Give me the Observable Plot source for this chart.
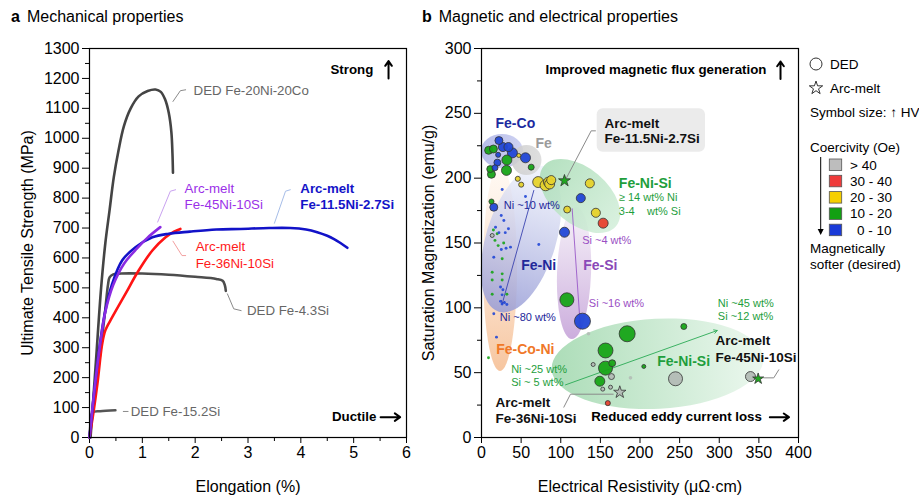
<!DOCTYPE html>
<html><head><meta charset="utf-8">
<script src="https://cdn.jsdelivr.net/npm/d3@7"></script>
<script src="https://cdn.jsdelivr.net/npm/@observablehq/plot@0.6"></script>
<style>
body{margin:0;background:#fff;font-family:"Liberation Sans",Arial,Helvetica,sans-serif;}
#wrap{position:relative;width:919px;height:496px;overflow:hidden;background:#fff;}
.abs{position:absolute;}
.title{position:absolute;font-size:16px;line-height:18px;white-space:nowrap;color:#000;}
</style></head>
<body><div id="wrap">
<div class="title" style="left:11px;top:8px"><b>a</b><span style="margin-left:7px">Mechanical properties</span></div>
<div class="title" style="left:422px;top:8px"><b>b</b><span style="margin-left:7px">Magnetic and electrical properties</span></div>
<div id="pa" class="abs" style="left:0;top:0"></div>
<div id="pb" class="abs" style="left:400px;top:0"></div>
<div id="lg" class="abs" style="left:800px;top:30px"></div>
</div>
<script>
const FONT = '"Liberation Sans", Arial, Helvetica, sans-serif';

// ---------------- Panel a: stress-strain curves ----------------
const elong_Fe20Ni20Co = [0.02,0.12,0.22,0.30,0.38,0.46,0.55,0.65,0.78,0.93,1.10,1.25,1.35,1.43,1.50,1.55,1.57,1.58];
const uts_Fe20Ni20Co   = [0,250,500,650,760,870,960,1040,1100,1140,1158,1163,1155,1130,1085,1020,950,885];
const elong_Fe43Si = [0,0.10,0.21,0.30,0.35,0.38,0.45,0.60,1.00,1.50,2.00,2.40,2.52,2.56,2.58];
const uts_Fe43Si   = [0,140,291,430,510,535,545,548,548,544,537,530,524,510,490];
const elong_Fe152Si = [0,0.03,0.06,0.20,0.49];
const uts_Fe152Si   = [0,60,84,88,91];
const elong_Fe45Ni10Si = [0,0.10,0.20,0.30,0.45,0.65,0.90,1.10,1.34];
const uts_Fe45Ni10Si   = [0,170,310,420,510,580,632,668,703];
const elong_Fe115Ni27Si = [0,0.10,0.18,0.30,0.43,0.62,0.87,1.19,1.50,1.90,2.40,2.86,3.40,3.80,4.10,4.31,4.50,4.62,4.75,4.88];
const uts_Fe115Ni27Si   = [0,170,291,424,514,592,636,669,681,688,695,697,700,700,695,686,674,664,650,634];
const elong_Fe36Ni10Si = [0,0.08,0.15,0.24,0.30,0.43,0.68,0.93,1.19,1.44,1.60,1.72];
const uts_Fe36Ni10Si   = [0,90,180,313,358,402,480,558,625,669,688,697];

const curves = [
  {name:"DED Fe-20Ni-20Co", e:elong_Fe20Ni20Co, s:uts_Fe20Ni20Co, color:"#444444"},
  {name:"DED Fe-4.3Si", e:elong_Fe43Si, s:uts_Fe43Si, color:"#4d4d4d"},
  {name:"DED Fe-15.2Si", e:elong_Fe152Si, s:uts_Fe152Si, color:"#555555"},
  {name:"Arc-melt Fe-36Ni-10Si", e:elong_Fe36Ni10Si, s:uts_Fe36Ni10Si, color:"#ff1414"},
  {name:"Arc-melt Fe-11.5Ni-2.7Si", e:elong_Fe115Ni27Si, s:uts_Fe115Ni27Si, color:"#1212c8"},
  {name:"Arc-melt Fe-45Ni-10Si", e:elong_Fe45Ni10Si, s:uts_Fe45Ni10Si, color:"#8a2be2"}
];

const labelsA = [
  {x:1.97, y:1160, t:"DED Fe-20Ni-20Co", c:"#666666", b:false},
  {x:1.80, y:831, t:"Arc-melt", c:"#9b30e8", b:false},
  {x:1.80, y:779, t:"Fe-45Ni-10Si", c:"#9b30e8", b:false},
  {x:3.99, y:831, t:"Arc-melt", c:"#1414c8", b:true},
  {x:3.99, y:779, t:"Fe-11.5Ni-2.7Si", c:"#1414c8", b:true},
  {x:2.01, y:636, t:"Arc-melt", c:"#ff1a1a", b:false},
  {x:2.01, y:580, t:"Fe-36Ni-10Si", c:"#ff1a1a", b:false},
  {x:2.98, y:424, t:"DED Fe-4.3Si", c:"#666666", b:false},
  {x:0.78, y:85, t:"DED Fe-15.2Si", c:"#666666", b:false},
  {x:4.56, y:1230, t:"Strong", c:"#000", b:true},
  {x:4.59, y:68, t:"Ductile", c:"#000", b:true}
];
const leadersA = [
  {p:[[1.58,1123],[1.72,1159],[1.82,1162]], c:"#8a8a8a"},
  {p:[[1.29,720],[1.53,823],[1.63,828]], c:"#c9a2f0"},
  {p:[[3.50,716],[3.71,823],[3.80,828]], c:"#a6bde8"},
  {p:[[1.58,656],[1.75,608],[1.82,608]], c:"#f2a0a0"},
  {p:[[2.61,480],[2.73,430],[2.87,424]], c:"#8a8a8a"},
  {p:[[0.64,87],[0.73,87]], c:"#8a8a8a"}
];
const arrowsA = [
  {x1:5.66, y1:1200, x2:5.66, y2:1258},
  {x1:5.51, y1:68, x2:5.88, y2:68}
];

function textMarks(list, size) {
  return list.map(a => Plot.text([a], {x:"x", y:"y", text:"t", fill:a.c, fontSize:a.s || size,
    fontWeight: a.b ? "bold" : "normal", textAnchor:"start", lineAnchor:"middle"}));
}

const plotA = Plot.plot({
  width: 415, height: 496,
  marginLeft: 89, marginRight: 9, marginTop: 48, marginBottom: 59,
  style: {fontFamily: FONT, fontSize: "16px", color: "#000", background: "transparent", overflow: "visible"},
  x: {domain: [0, 6]},
  y: {domain: [0, 1300]},
  marks: [
    Plot.axisX({ticks: d3.range(0, 7, 1), tickSize: 6, tickPadding: 3, tickFormat: "d",
      label: "Elongation (%)", labelAnchor: "center", labelOffset: 54, labelArrow: "none"}),
    Plot.axisX({ticks: d3.range(0.5, 6, 1), tickSize: 4, tickFormat: () => "", label: null}),
    Plot.axisY({ticks: d3.range(0, 1301, 100), tickSize: 7, tickPadding: 3, tickFormat: "d",
      label: "Ultimate Tensile Strength (MPa)", labelAnchor: "center", labelOffset: 68, labelArrow: "none"}),
    Plot.axisY({ticks: d3.range(50, 1300, 100), tickSize: 4, tickFormat: () => "", label: null}),
    ...leadersA.map(l => Plot.line(l.p, {stroke: l.c, strokeWidth: 1})),
    ...curves.map(c => Plot.line(c.e.map((v, i) => ({e: v, s: c.s[i]})),
      {x: "e", y: "s", stroke: c.color, strokeWidth: 2.6, curve: "catmull-rom"})),
    ...textMarks(labelsA, 13.3),
    Plot.arrow(arrowsA, {x1:"x1", y1:"y1", x2:"x2", y2:"y2", stroke:"#000", strokeWidth:2, headLength:8, headAngle:70}),
    Plot.frame({stroke: "#000", strokeWidth: 1.2})
  ]
});
document.getElementById("pa").appendChild(plotA);

// ---------------- Panel b: magnetic vs electrical ----------------
const coerClasses = ["> 40", "30 - 40", "20 - 30", "10 - 20", "0 - 10"];
const processes = ["DED", "Arc-melt"];
const resistivity = [22,27,34,39,9,15,21,20,32,17,11,12.5,31.5,47,55.5,62.7,45.8,50.1,71.5,80.8,84.5,88,86,136.7,125.3,144.3,153.5,108.1,104.7,
  26.1,55.5,12.6,15.5,24.9,28.2,17.7,13.5,19.8,15,22,30,34,17,21,28,36.6,31,25,15.5,26.1,72.3,13.5,26.1,13.5,26.1,24,27,13.5,26,32,24,26,29,32,15.5,18.9,8.8,
  107.7,127.4,135,183.8,255.3,156.5,164.9,140.9,156.5,164,188,149.3,153,162.8,159.4,204.8,244.8,339.4,
  104.7,174.5,349.1];
const saturation = [229,224,224,219.5,221.5,222.5,218,212,214,208,207,203,206,217.5,215.7,208.5,199.5,195,197,194.5,197,198.5,195.5,196,184.6,173.3,165.3,175.8,158.3,
  191.3,185.9,182,177.6,171.2,167.3,162.2,155.8,157.1,160,158,158,161,152,148,150,146.8,146,145,139,137.8,148.8,127.5,126.2,121.5,121.5,116,114,110.5,110,110.5,105,103,104,102.5,95.4,77.4,61.5,
  106.2,89.7,80,80,85.6,67.1,57.3,56.3,53.5,47,46,43.4,37.3,38.8,26.5,54.8,45.3,47,
  198,34.9,45.3];
const coercivity = ["0 - 10","0 - 10","0 - 10","0 - 10","10 - 20","10 - 20","0 - 10","0 - 10","10 - 20","0 - 10","10 - 20","10 - 20","10 - 20","20 - 30","0 - 10","10 - 20","20 - 30","20 - 30","20 - 30","20 - 30","20 - 30","20 - 30","20 - 30","20 - 30","0 - 10","20 - 30","30 - 40","20 - 30","0 - 10",
  "0 - 10","0 - 10","10 - 20","0 - 10","0 - 10","0 - 10","0 - 10","> 40","10 - 20","10 - 20","0 - 10","0 - 10","0 - 10","10 - 20","10 - 20","10 - 20","0 - 10","0 - 10","0 - 10","0 - 10","10 - 20","0 - 10","10 - 20","10 - 20","10 - 20","10 - 20","0 - 10","0 - 10","10 - 20","0 - 10","10 - 20","0 - 10","0 - 10","0 - 10","0 - 10","0 - 10","0 - 10","10 - 20",
  "10 - 20","0 - 10","> 40","10 - 20","10 - 20","10 - 20","10 - 20","> 40","10 - 20","> 40","> 40","10 - 20","> 40","> 40","30 - 40","10 - 20","> 40","> 40",
  "10 - 20","> 40","10 - 20"];
const hardnessHV = [300,340,340,375,300,300,190,260,375,225,260,300,375,150,375,225,190,190,410,410,375,340,375,340,340,340,375,260,375,
  110,110,190,300,110,110,110,150,110,110,110,110,110,110,110,110,110,110,110,110,110,110,110,110,110,110,110,110,110,110,110,110,110,110,110,110,110,110,
  525,600,135,600,225,560,260,150,525,225,135,375,150,150,190,150,525,375,
  280,290,260];
const process = resistivity.map((_, i) => i >= resistivity.length - 3 ? "Arc-melt" : "DED");

const points = resistivity.map((r, i) => ({r, m: saturation[i], coer: coercivity[i], hv: hardnessHV[i], proc: process[i]}));

const regions = [
  {name:"Fe-Co-Ni", cx:24.0, cy:130.3, a:103, b:17, angle:90, c0:"#fff4ea", c1:"#f6c29a", o0:0.55, o1:0.95},
  {name:"Fe-Ni", cx:50.5, cy:152.7, a:76, b:35, angle:107, c0:"#edf1fc", c1:"#979cd6", o0:0.7, o1:0.85},
  {name:"Fe-Co", cx:26.5, cy:220.6, a:21, b:17, angle:0, c0:"#aab1e6", c1:"#c6caef", o0:0.85, o1:0.85},
  {name:"Fe", cx:57.4, cy:213.6, a:15, b:15, angle:0, c0:"#cccccc", c1:"#d9d9d9", o0:0.85, o1:0.85},
  {name:"Fe-Si", cx:117.4, cy:126.5, a:66, b:17, angle:92, c0:"#f4eef7", c1:"#c6a4d9", o0:0.8, o1:0.9},
  {name:"Fe-Ni-Si low Si", cx:124.9, cy:185.9, a:47, b:28, angle:40, c0:"#a9dcb6", c1:"#d2eed9", o0:0.85, o1:0.85},
  {name:"Fe-Ni-Si high Si", cx:222.7, cy:56.5, a:106, b:45, angle:-3, c0:"#a3d9b0", c1:"#eaf7ed", o0:0.9, o1:0.9}
];

function regionMark(list) {
  return (index, scales) => {
    const g = d3.create("svg:g");
    const defs = g.append("defs");
    list.forEach((d, i) => {
      const id = "regGrad" + i;
      const lg = defs.append("linearGradient").attr("id", id).attr("x1", 0).attr("y1", 0).attr("x2", 1).attr("y2", 0);
      lg.append("stop").attr("offset", "0%").attr("stop-color", d.c0).attr("stop-opacity", d.o0);
      lg.append("stop").attr("offset", "100%").attr("stop-color", d.c1).attr("stop-opacity", d.o1);
      g.append("ellipse").attr("cx", 0).attr("cy", 0).attr("rx", d.a).attr("ry", d.b)
        .attr("transform", `translate(${scales.x(d.cx)},${scales.y(d.cy)}) rotate(${d.angle})`)
        .attr("fill", `url(#${id})`);
    });
    return g.node();
  };
}

const GREEN = "#1e9e3c", NAVY = "#22279a", PURPLE = "#9a4fc4";
const labelsB = [
  {x:80.8, y:283.6, t:"Improved magnetic flux generation", c:"#000", b:true},
  {x:138.4, y:15.7, t:"Reduced eddy current loss", c:"#000", b:true},
  {x:17.7, y:242.4, t:"Fe-Co", c:"#1c2aa0", b:true, s:14},
  {x:68.1, y:227, t:"Fe", c:"#9b9b9b", b:true, s:14},
  {x:155.2, y:241.9, t:"Arc-melt", c:"#111", b:true, s:13.5},
  {x:155.2, y:230.4, t:"Fe-11.5Ni-2.7Si", c:"#111", b:true, s:13.5},
  {x:173.3, y:195.6, t:"Fe-Ni-Si", c:GREEN, b:true, s:14},
  {x:173.3, y:184.8, t:"\u2265 14 wt% Ni", c:GREEN, s:11},
  {x:173.3, y:174.5, t:"3-4\u00a0\u00a0\u00a0 wt% Si", c:GREEN, s:11},
  {x:28.2, y:178.9, t:"Ni ~10 wt%", c:NAVY, s:11},
  {x:127, y:151.9, t:"Si ~4 wt%", c:PURPLE, s:11},
  {x:50.1, y:132.6, t:"Fe-Ni", c:NAVY, b:true, s:14},
  {x:128.3, y:132.6, t:"Fe-Si", c:"#8a48b8", b:true, s:14},
  {x:135.4, y:103.1, t:"Si ~16 wt%", c:PURPLE, s:11},
  {x:23.1, y:92.8, t:"Ni ~80 wt%", c:NAVY, s:11},
  {x:18.5, y:67.6, t:"Fe-Co-Ni", c:"#f07828", b:true, s:14},
  {x:298.2, y:103.1, t:"Ni ~45 wt%", c:GREEN, s:11},
  {x:298.2, y:93.3, t:"Si ~12 wt%", c:GREEN, s:11},
  {x:37.4, y:52.7, t:"Ni ~25 wt%", c:GREEN, s:11},
  {x:37.4, y:42.6, t:"Si ~ 5 wt%", c:GREEN, s:11},
  {x:221.7, y:58.8, t:"Fe-Ni-Si", c:GREEN, b:true, s:14},
  {x:295.3, y:74.8, t:"Arc-melt", c:"#111", b:true, s:13.5},
  {x:295.3, y:61.9, t:"Fe-45Ni-10Si", c:"#111", b:true, s:13.5},
  {x:17.7, y:26.8, t:"Arc-melt", c:"#111", b:true, s:13.5},
  {x:17.7, y:14.9, t:"Fe-36Ni-10Si", c:"#111", b:true, s:13.5}
];
const calloutBox = [{x1:146, x2:282.6, y1:220, y2:253.5}];
const leadersB = [
  [[107.3,200.3],[138.4,236.5],[143.8,236.5]],
  [[356.2,46],[368.8,46],[375.1,52.2]],
  [[166.2,33.4],[112.3,33.4],[103.9,23.4]]
];
const trendArrows = [
  {x1:66, y1:190.5, x2:26.1, y2:103.1, c:"#3b44b0"},
  {x1:114.4, y1:176.4, x2:124.9, y2:83.8, c:"#9a5ac8"},
  {x1:106, y1:40.6, x2:297.4, y2:82.5, c:"#2aaa55"}
];
const bigArrowsB = [
  {x1:377.3, y1:276.5, x2:377.3, y2:290},
  {x1:363.8, y1:15.7, x2:388, y2:15.7}
];

const plotB = Plot.plot({
  width: 410, height: 496,
  marginLeft: 81, marginRight: 12, marginTop: 48, marginBottom: 59,
  style: {fontFamily: FONT, fontSize: "16px", color: "#000", background: "transparent", overflow: "visible"},
  x: {domain: [0, 400]},
  y: {domain: [0, 300]},
  color: {type: "ordinal", domain: coerClasses, range: ["#b3bcb6", "#e8412f", "#e6d22b", "#17a417", "#2147d6"]},
  r: {type: "linear", domain: [0, 600], range: [0, 8]},
  symbol: {domain: processes, range: ["circle", "star"]},
  marks: [
    regionMark(regions),
    Plot.axisX({ticks: d3.range(0, 401, 50), tickSize: 6, tickPadding: 3, tickFormat: "d",
      label: "Electrical Resistivity (\u03bc\u03a9\u00b7cm)", labelAnchor: "center", labelOffset: 54, labelArrow: "none"}),
    Plot.axisY({ticks: d3.range(0, 301, 50), tickSize: 7, tickPadding: 3, tickFormat: "d",
      label: "Saturation Magnetization (emu/g)", labelAnchor: "center", labelOffset: 59, labelArrow: "none"}),
    Plot.axisY({ticks: d3.range(25, 300, 50), tickSize: 4, tickFormat: () => "", label: null}),
    Plot.rect(calloutBox, {x1:"x1", x2:"x2", y1:"y1", y2:"y2", fill:"#ebebeb", rx:6}),
    ...leadersB.map(p => Plot.line(p, {stroke: "#8a8a8a", strokeWidth: 1})),
    Plot.arrow(trendArrows, {x1:"x1", y1:"y1", x2:"x2", y2:"y2", stroke: d => d.c, strokeWidth: 0.9, headLength: 6}),
    Plot.dot(points, {filter: d => d.hv < 140, x: "r", y: "m", r: "hv", fill: "coer", symbol: "proc", fillOpacity: 0.9}),
    Plot.dot(points, {filter: d => d.hv >= 140, x: "r", y: "m", r: "hv", fill: "coer", symbol: "proc", stroke: "#333", strokeWidth: 0.8, fillOpacity: 0.95}),
    ...textMarks(labelsB, 13.3),
    Plot.arrow(bigArrowsB, {x1:"x1", y1:"y1", x2:"x2", y2:"y2", stroke:"#000", strokeWidth:2, headLength:8, headAngle:70}),
    Plot.frame({stroke: "#000", strokeWidth: 1.2})
  ]
});
document.getElementById("pb").appendChild(plotB);

// ---------------- Legend ----------------
const legendColors = ["#bdbdbd", "#ef3b3b", "#f5cf00", "#12a012", "#1a3ad8"];
const lg = d3.select("#lg").append("svg").attr("width", 119).attr("height", 250)
  .style("font-family", FONT).style("font-size", "13.5px").style("overflow", "visible");
lg.append("circle").attr("cx", 16).attr("cy", 34).attr("r", 6).attr("fill", "none").attr("stroke", "#333").attr("stroke-width", 1);
lg.append("text").attr("x", 30).attr("y", 34).attr("dy", "0.35em").text("DED");
lg.append("path").attr("d", d3.symbol(d3.symbolStar, 55)()).attr("transform", "translate(16,58)")
  .attr("fill", "none").attr("stroke", "#333").attr("stroke-width", 1);
lg.append("text").attr("x", 30).attr("y", 58).attr("dy", "0.35em").text("Arc-melt");
lg.append("text").attr("x", 10).attr("y", 82).attr("dy", "0.35em").text("Symbol size: \u2191 HV");
lg.append("text").attr("x", 10).attr("y", 117).attr("dy", "0.35em").text("Coercivity (Oe)");
lg.append("line").attr("x1", 20.7).attr("x2", 20.7).attr("y1", 127).attr("y2", 200).attr("stroke", "#000").attr("stroke-width", 1);
lg.append("path").attr("d", "M17.7,199 L23.7,199 L20.7,205 Z").attr("fill", "#000");
coerClasses.forEach((c, i) => {
  const y = 129 + i * 16.3;
  lg.append("rect").attr("x", 29.3).attr("y", y).attr("width", 12.4).attr("height", 11.5)
    .attr("fill", legendColors[i]).attr("stroke", "#555").attr("stroke-width", 0.8);
  lg.append("text").attr("x", c === "0 - 10" ? 57 : 50).attr("y", y + 5.8).attr("dy", "0.35em").text(c);
});
lg.append("text").attr("x", 10).attr("y", 218).attr("dy", "0.35em").text("Magnetically");
lg.append("text").attr("x", 10).attr("y", 234).attr("dy", "0.35em").text("softer (desired)");
</script>
</body></html>
